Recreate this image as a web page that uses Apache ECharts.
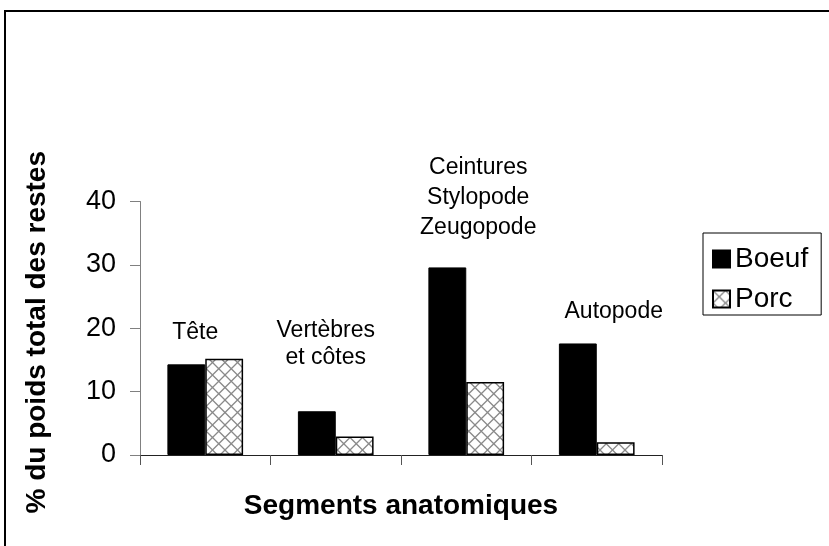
<!DOCTYPE html>
<html>
<head>
<meta charset="utf-8">
<script src="https://cdn.jsdelivr.net/npm/echarts@6/dist/echarts.min.js"></script>
<style>
  html, body { margin: 0; padding: 0; background: #fff; }
  #chart { width: 829px; height: 546px; }
</style>
</head>
<body>
<div id="chart"></div>
<script>
// Anatomical segments (category axis, no drawn tick labels)
const segments = ['Tête', 'Vertèbres et côtes', 'Ceintures Stylopode Zeugopode', 'Autopode'];
// Text printed above each group of bars
const segmentLabels = ['Tête', 'Vertèbres\net côtes', 'Ceintures\nStylopode\nZeugopode', 'Autopode'];
// % of total weight of remains
const boeuf = [14.3, 6.9, 29.6, 17.6];
const porc = [15.2, 2.9, 11.5, 2.0];
// Value axis ticks
const yTicks = [0, 10, 20, 30, 40];

const FONT = "'Liberation Sans', Arial, sans-serif";

// Cross-hatched fill for the pork bars
function hatchTile() {
  const s = 12.5;
  const c = document.createElement('canvas');
  c.width = 25; c.height = 25;
  const g = c.getContext('2d');
  g.fillStyle = '#fff';
  g.fillRect(0, 0, 25, 25);
  g.strokeStyle = '#8a8a8a';
  g.lineWidth = 1.3;
  g.beginPath();
  for (let k = -2; k <= 2; k++) {
    g.moveTo(k * s, 0); g.lineTo(k * s + 25, 25);
    g.moveTo(k * s + 25, 0); g.lineTo(k * s, 25);
  }
  g.stroke();
  return c;
}
const hatch = { image: hatchTile(), repeat: 'repeat' };

const chart = echarts.init(document.getElementById('chart'), null, { renderer: 'canvas' });

const option = {
  animation: false,
  backgroundColor: '#fff',
  textStyle: { fontFamily: FONT },
  grid: { left: 140, right: 167, top: 201.5, bottom: 91, containLabel: false },
  legend: {
    orient: 'vertical',
    left: 703,
    top: 233,
    padding: [12, 13, 2, 9],
    itemGap: 12,
    itemWidth: 17,
    itemHeight: 17,
    itemTextGap: 14,
    borderColor: '#000',
    borderWidth: 1,
    textStyle: { fontSize: 28, color: '#000', fontFamily: FONT },
    data: [
      { name: 'Boeuf', icon: 'rect' },
      { name: 'Porc', icon: 'rect' }
    ]
  },
  xAxis: {
    type: 'category',
    data: segments,
    name: 'Segments anatomiques',
    nameLocation: 'middle',
    nameGap: 37,
    nameTextStyle: { fontSize: 28, fontWeight: 'bold', color: '#000', fontFamily: FONT },
    axisLine: { lineStyle: { color: '#222', width: 1 } },
    axisTick: { show: true, interval: 0, length: 10, lineStyle: { color: '#555' } },
    axisLabel: { show: false, interval: 0 },
    splitLine: { show: false }
  },
  yAxis: {
    type: 'value',
    min: yTicks[0],
    max: yTicks[yTicks.length - 1],
    interval: 10,
    name: '% du poids total des restes',
    nameLocation: 'middle',
    nameGap: 89,
    nameTextStyle: { fontSize: 28, fontWeight: 'bold', color: '#000', fontFamily: FONT, padding: [0, 8, 0, 0] },
    axisLine: { show: true, lineStyle: { color: '#808080', width: 1 } },
    axisTick: { show: true, length: 10, lineStyle: { color: '#808080' } },
    axisLabel: { fontSize: 27, color: '#000', margin: 24, fontFamily: FONT },
    splitLine: { show: false }
  },
  series: [
    {
      name: 'Boeuf',
      type: 'bar',
      data: boeuf,
      barGap: '0%',
      barCategoryGap: '42%',
      itemStyle: { color: '#000', borderColor: '#000', borderWidth: 1 }
    },
    {
      name: 'Porc',
      type: 'bar',
      data: porc,
      barGap: '0%',
      barCategoryGap: '42%',
      itemStyle: { color: hatch, borderColor: '#000', borderWidth: 1.5 }
    }
  ]
};
chart.setOption(option);

// Group captions above the bars, anchored to each category's centre
const captionShift = [-10, -10, 12, 17];   // horizontal nudge in px
const captionY = [333, 344, 198, 312];      // vertical centre of each caption block in px
const captionLine = [28, 27, 30, 28];

const graphics = segmentLabels.map((txt, i) => {
  const cx = chart.convertToPixel({ xAxisIndex: 0 }, segments[i]);
  return {
    type: 'text',
    x: cx + captionShift[i],
    y: captionY[i],
    style: {
      text: txt,
      fill: '#000',
      font: '23px ' + FONT,
      align: 'center',
      verticalAlign: 'middle',
      lineHeight: captionLine[i]
    },
    z: 10
  };
});

// Outer frame (top and left edges)
graphics.push({
  type: 'polyline',
  shape: { points: [[5, 546], [5, 11], [829, 11]] },
  style: { stroke: '#000', lineWidth: 2, fill: null },
  z: 10
});

chart.setOption({ graphic: graphics });
</script>
</body>
</html>
